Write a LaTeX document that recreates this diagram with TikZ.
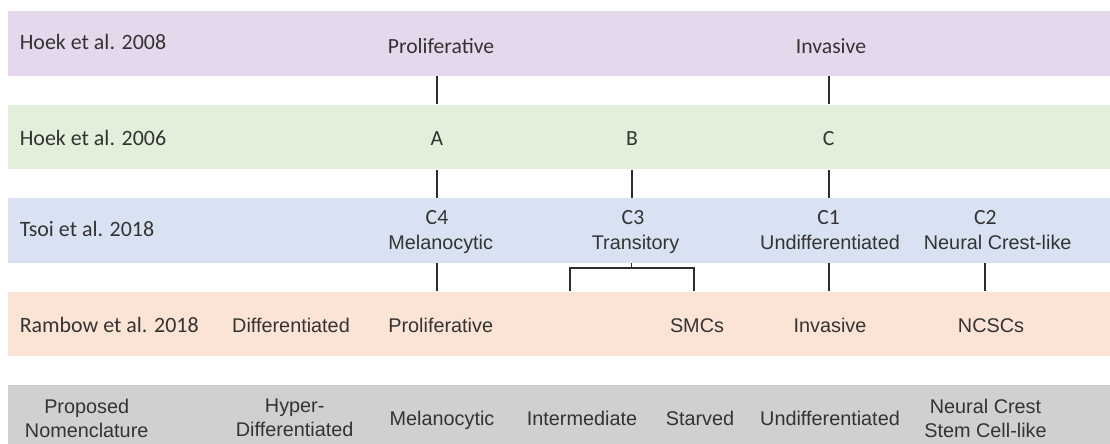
\documentclass[tikz,border=0pt]{standalone}
\usepackage{fontspec}
\setmainfont{Liberation Sans}
\newfontfamily\calib{Carlito}
\definecolor{HoekPurple}{HTML}{E5D8EC}
\definecolor{HoekGreen}{HTML}{E2EFDA}
\definecolor{TsoiBlue}{HTML}{D9E2F3}
\definecolor{RambowOrange}{HTML}{FBE4D5}
\definecolor{PropGray}{HTML}{D0D0D0}
\definecolor{LabelGray}{HTML}{333333}
\definecolor{LinkGray}{HTML}{2E2E2E}

\begin{document}
\begin{tikzpicture}[
  x=0.025cm, y=-0.025cm,
  font=\fontsize{14.1}{17.1}\selectfont,
  band/.style={draw=none, inner sep=0pt, anchor=north west,
    minimum width=27.6cm, minimum height=16.125mm},
  head/.style={anchor=base west, inner sep=0pt, text=LabelGray,
    font=\calib\fontsize{15.6}{18.7}\selectfont},
  cal/.style={anchor=base, inner sep=0pt, text=LabelGray,
    font=\calib\fontsize{15.4}{18.5}\selectfont},
  lab/.style={anchor=base, inner sep=0pt, text=LabelGray},
  pair/.style={anchor=north, inner sep=0pt, align=center, text=LabelGray},
  link/.style={draw=LinkGray, line width=1.4pt},
]
\useasboundingbox (0,0) rectangle (1110,444);

% bands
\node[band, fill=HoekPurple]   (b08)  at (8,11)    {};
\node[band, fill=HoekGreen]    (b06)  at (8,104.5) {};
\node[band, fill=TsoiBlue]     (tsoi) at (8,198)   {};
\node[band, fill=RambowOrange] (ramb) at (8,291.5) {};
\node[band, fill=PropGray]     (prop) at (8,385)   {};

% row labels
\node[head] (h08) at (19.5,50)    {Hoek et al. 2008};
\node[head] (h06) at (19.5,145.7) {Hoek et al. 2006};
\node[head] (t18) at (19.5,237)   {Tsoi et al. 2018};
\node[head] (r18) at (19.5,332.5) {Rambow et al. 2018};
\node[pair] (pnom) at (86.7,398.8) {Proposed\\Nomenclature};

% Hoek 2008
\node[cal] (pro08) at (441,54) {Proliferative};
\node[cal] (inv08) at (831,54) {Invasive};

% Hoek 2006
\node[cal] (ca) at (437,146)   {A};
\node[cal] (cb) at (632,146)   {B};
\node[cal] (cc) at (828.6,146) {C};

% Tsoi 2018
\node[cal] (c4) at (437,224.5)   {C4};
\node[cal] (c3) at (633,224.5)   {C3};
\node[cal] (c1) at (828.6,224.5) {C1};
\node[cal] (c2) at (985.3,224.5) {C2};
\node[lab] (tmel) at (440.7,250) {Melanocytic};
\node[lab] (ttra) at (635.5,250) {Transitory};
\node[lab] (tund) at (830,250)   {Undifferentiated};
\node[lab] (tncl) at (997.7,250) {Neural Crest-like};

% Rambow 2018
\node[lab] (rdif) at (291,332.5)   {Differentiated};
\node[lab] (rpro) at (440.7,332.5) {Proliferative};
\node[lab] (rsmc) at (697,332.5)   {SMCs};
\node[lab] (rinv) at (830,332.5)   {Invasive};
\node[lab] (rncs) at (991,332.5)   {NCSCs};

% proposed nomenclature
\node[pair] (phyp) at (294.7,398.8) {Hyper-\\Differentiated};
\node[lab]  (pmel) at (442,426)     {Melanocytic};
\node[lab]  (pint) at (582,426)     {Intermediate};
\node[lab]  (pstv) at (700,426)     {Starved};
\node[lab]  (pund) at (830,426)     {Undifferentiated};
\node[pair] (pncs) at (985.5,398.8) {Neural Crest\\Stem Cell-like};

% links between rows
\draw[link] (b08.south -| ca) -- (b06.north -| ca);
\draw[link] (b08.south -| cc) -- (b06.north -| cc);
\draw[link] (b06.south -| ca) -- (tsoi.north -| ca);
\draw[link] (b06.south -| cb) -- (tsoi.north -| cb);
\draw[link] (b06.south -| cc) -- (tsoi.north -| cc);
\draw[link] (tsoi.south -| c4) -- (ramb.north -| c4);
\draw[link] (tsoi.south -| c1) -- (ramb.north -| c1);
\draw[link] (tsoi.south -| c2) -- (ramb.north -| c2);

% C3 splits in two
\coordinate (fork)   at (631.5,268);
\coordinate (splitL) at (570,268);
\coordinate (splitR) at (694,268);
\draw[link] (tsoi.south -| fork) -- (fork);
\draw[link] (ramb.north -| splitL) -- (splitL) -- (splitR) -- (ramb.north -| splitR);
\end{tikzpicture}
\end{document}
